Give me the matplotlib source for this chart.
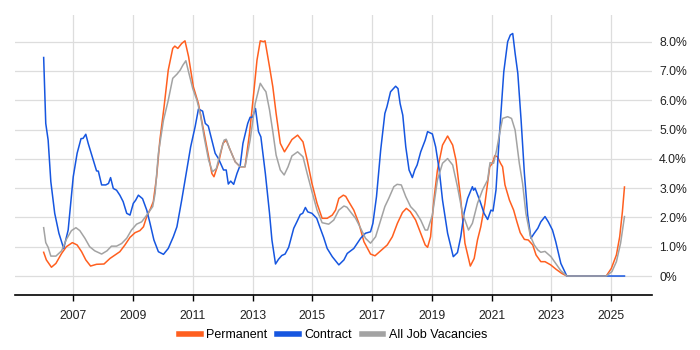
import matplotlib
matplotlib.use("Agg")
import matplotlib.pyplot as plt
import numpy as np

plt.rcParams['font.family'] = ['Liberation Sans', 'DejaVu Sans']

# ---- data (decimal year, percent) ----
perm_x = [2006.01, 2006.10, 2006.27, 2006.42, 2006.61, 2006.77, 2006.97, 2007.13, 2007.28, 2007.42,
          2007.58, 2007.78, 2008.03, 2008.23, 2008.40, 2008.56, 2008.73, 2008.90, 2009.07, 2009.23,
          2009.35, 2009.46, 2009.59, 2009.68, 2009.79, 2009.90, 2010.04, 2010.18, 2010.33, 2010.40,
          2010.50, 2010.63, 2010.74, 2010.86, 2011.02, 2011.19, 2011.36, 2011.53, 2011.64, 2011.71,
          2011.86, 2012.01, 2012.12, 2012.23, 2012.42, 2012.59, 2012.75, 2012.90, 2013.04, 2013.15,
          2013.26, 2013.37, 2013.42, 2013.57, 2013.68, 2013.79, 2013.93, 2014.07, 2014.21, 2014.32,
          2014.51, 2014.69, 2014.83, 2014.99, 2015.16, 2015.33, 2015.50, 2015.67, 2015.78, 2015.89,
          2016.04, 2016.12, 2016.22, 2016.39, 2016.56, 2016.73, 2016.95, 2017.10, 2017.29, 2017.51,
          2017.68, 2017.85, 2018.02, 2018.15, 2018.28, 2018.46, 2018.63, 2018.78, 2018.86, 2018.96,
          2019.07, 2019.19, 2019.36, 2019.53, 2019.70, 2019.81, 2019.96, 2020.11, 2020.29, 2020.42,
          2020.53, 2020.64, 2020.78, 2020.94, 2021.03, 2021.11, 2021.20, 2021.30, 2021.37, 2021.45,
          2021.60, 2021.74, 2021.85, 2021.96, 2022.10, 2022.23, 2022.38, 2022.49, 2022.65, 2022.79,
          2022.98, 2023.16, 2023.35, 2023.52, 2024.00, 2024.50, 2024.84, 2025.01, 2025.18, 2025.29,
          2025.38, 2025.45]
perm_y = [0.81, 0.55, 0.30, 0.43, 0.77, 1.00, 1.14, 1.06, 0.83, 0.55,
          0.34, 0.40, 0.41, 0.60, 0.72, 0.83, 1.06, 1.32, 1.48, 1.55,
          1.68, 2.03, 2.31, 2.54, 3.39, 4.64, 5.78, 7.03, 7.77, 7.85,
          7.77, 7.94, 8.03, 7.49, 6.46, 5.89, 4.98, 4.07, 3.50, 3.39,
          3.85, 4.53, 4.64, 4.36, 3.90, 3.73, 3.73, 4.87, 6.24, 7.37,
          8.03, 8.00, 8.03, 7.14, 6.46, 5.55, 4.53, 4.24, 4.47, 4.66,
          4.81, 4.58, 3.96, 3.16, 2.48, 1.97, 1.97, 2.08, 2.25, 2.65,
          2.76, 2.72, 2.54, 2.25, 1.80, 1.17, 0.75, 0.69, 0.86, 1.06,
          1.34, 1.80, 2.17, 2.31, 2.20, 1.91, 1.46, 1.06, 0.98, 1.34,
          2.59, 3.62, 4.47, 4.78, 4.47, 3.96, 2.71, 1.12, 0.34, 0.60,
          1.23, 1.68, 2.48, 3.73, 3.85, 4.11, 4.07, 3.85, 3.73, 3.11,
          2.59, 2.25, 1.85, 1.48, 1.25, 1.23, 1.06, 0.72, 0.49, 0.49,
          0.38, 0.23, 0.09, 0.00, 0.00, 0.00, 0.00, 0.26, 0.72, 1.34,
          2.19, 3.04]

cont_x = [2006.01, 2006.08, 2006.16, 2006.25, 2006.38, 2006.52, 2006.68, 2006.83, 2007.00, 2007.13,
          2007.26, 2007.33, 2007.42, 2007.50, 2007.67, 2007.78, 2007.84, 2007.95, 2008.09, 2008.18,
          2008.25, 2008.34, 2008.45, 2008.56, 2008.67, 2008.79, 2008.90, 2009.01, 2009.09, 2009.18,
          2009.32, 2009.46, 2009.57, 2009.70, 2009.85, 2010.02, 2010.18, 2010.35, 2010.47, 2010.63,
          2010.78, 2010.93, 2011.08, 2011.19, 2011.33, 2011.42, 2011.52, 2011.61, 2011.75, 2011.86,
          2012.03, 2012.12, 2012.19, 2012.27, 2012.37, 2012.48, 2012.59, 2012.68, 2012.84, 2012.92,
          2013.00, 2013.10, 2013.20, 2013.28, 2013.43, 2013.57, 2013.65, 2013.77, 2013.87, 2013.98,
          2014.09, 2014.21, 2014.38, 2014.49, 2014.60, 2014.68, 2014.77, 2014.85, 2014.99, 2015.15,
          2015.25, 2015.38, 2015.50, 2015.67, 2015.89, 2016.06, 2016.17, 2016.39, 2016.62, 2016.78,
          2016.95, 2017.03, 2017.15, 2017.29, 2017.43, 2017.50, 2017.62, 2017.79, 2017.87, 2017.94,
          2018.03, 2018.13, 2018.24, 2018.35, 2018.43, 2018.51, 2018.63, 2018.78, 2018.86, 2019.02,
          2019.13, 2019.25, 2019.36, 2019.53, 2019.72, 2019.86, 2019.97, 2020.08, 2020.20, 2020.36,
          2020.40, 2020.45, 2020.62, 2020.75, 2020.87, 2020.98, 2021.05, 2021.15, 2021.26, 2021.41,
          2021.54, 2021.63, 2021.71, 2021.79, 2021.88, 2021.99, 2022.10, 2022.21, 2022.32, 2022.43,
          2022.55, 2022.65, 2022.79, 2022.90, 2023.04, 2023.15, 2023.32, 2023.52, 2024.00, 2024.50,
          2025.00, 2025.45]
cont_y = [7.46, 5.21, 4.64, 3.22, 2.14, 1.46, 0.94, 1.57, 3.39, 4.19,
          4.69, 4.70, 4.84, 4.53, 3.96, 3.59, 3.58, 3.11, 3.11, 3.16,
          3.36, 2.99, 2.93, 2.76, 2.54, 2.14, 2.08, 2.48, 2.59, 2.76,
          2.64, 2.25, 1.80, 1.23, 0.83, 0.74, 0.94, 1.34, 1.68, 2.59,
          3.50, 4.41, 5.10, 5.70, 5.63, 5.21, 5.12, 4.75, 4.19, 4.01,
          3.62, 3.62, 3.14, 3.24, 3.13, 3.50, 3.79, 4.53, 5.21, 5.42,
          5.42, 5.72, 4.93, 4.75, 3.50, 2.14, 1.23, 0.41, 0.57, 0.70,
          0.75, 0.98, 1.63, 1.86, 2.10, 2.14, 2.34, 2.19, 2.14, 1.97,
          1.68, 1.32, 0.94, 0.66, 0.38, 0.55, 0.77, 0.94, 1.29, 1.46,
          1.51, 1.80, 2.71, 4.30, 5.55, 5.78, 6.29, 6.48, 6.40, 5.89,
          5.49, 4.41, 3.62, 3.36, 3.62, 3.79, 4.24, 4.64, 4.93, 4.85,
          4.41, 3.62, 2.59, 1.46, 0.66, 0.80, 1.34, 2.14, 2.65, 3.05,
          2.93, 3.00, 2.54, 2.14, 1.93, 2.25, 2.22, 2.94, 4.75, 6.97,
          8.00, 8.23, 8.28, 7.60, 6.92, 5.32, 3.50, 2.08, 1.29, 1.46,
          1.63, 1.85, 2.03, 1.85, 1.57, 1.17, 0.43, 0.00, 0.00, 0.00,
          0.00, 0.00]

all_x = [2006.01, 2006.08, 2006.16, 2006.25, 2006.42, 2006.61, 2006.77, 2006.94, 2007.09, 2007.22,
         2007.39, 2007.55, 2007.72, 2007.95, 2008.13, 2008.28, 2008.45, 2008.62, 2008.79, 2008.95,
         2009.12, 2009.29, 2009.46, 2009.66, 2009.74, 2009.85, 2010.02, 2010.18, 2010.33, 2010.47,
         2010.58, 2010.67, 2010.77, 2010.86, 2011.00, 2011.14, 2011.25, 2011.38, 2011.53, 2011.66,
         2011.79, 2011.92, 2012.05, 2012.12, 2012.23, 2012.42, 2012.59, 2012.75, 2012.92, 2013.09,
         2013.26, 2013.37, 2013.45, 2013.57, 2013.68, 2013.79, 2013.93, 2014.06, 2014.19, 2014.32,
         2014.51, 2014.69, 2014.83, 2014.99, 2015.16, 2015.33, 2015.55, 2015.72, 2015.89, 2016.06,
         2016.16, 2016.28, 2016.45, 2016.62, 2016.78, 2016.95, 2017.12, 2017.26, 2017.43, 2017.56,
         2017.73, 2017.84, 2017.98, 2018.13, 2018.29, 2018.46, 2018.63, 2018.78, 2018.86, 2019.02,
         2019.19, 2019.36, 2019.53, 2019.70, 2019.86, 2020.03, 2020.23, 2020.36, 2020.47, 2020.53,
         2020.70, 2020.87, 2020.95, 2021.07, 2021.17, 2021.26, 2021.37, 2021.54, 2021.67, 2021.79,
         2021.93, 2022.04, 2022.15, 2022.30, 2022.43, 2022.55, 2022.65, 2022.79, 2022.99, 2023.15,
         2023.32, 2023.52, 2024.00, 2024.50, 2024.84, 2025.03, 2025.18, 2025.32, 2025.45]
all_y = [1.65, 1.14, 0.98, 0.68, 0.68, 0.86, 1.25, 1.55, 1.65, 1.55,
         1.29, 1.00, 0.86, 0.75, 0.86, 1.02, 1.02, 1.11, 1.29, 1.57,
         1.77, 1.85, 2.08, 2.37, 2.82, 4.19, 5.32, 6.00, 6.75, 6.89,
         7.03, 7.20, 7.35, 6.97, 6.40, 6.00, 5.55, 4.75, 3.96, 3.56,
         3.67, 4.19, 4.64, 4.67, 4.36, 3.90, 3.73, 3.73, 4.64, 5.89,
         6.58, 6.40, 6.29, 5.67, 4.93, 4.13, 3.62, 3.45, 3.73, 4.10,
         4.24, 4.07, 3.50, 2.88, 2.25, 1.82, 1.77, 1.91, 2.25, 2.39,
         2.35, 2.19, 1.97, 1.63, 1.29, 1.12, 1.34, 1.80, 2.37, 2.65,
         3.05, 3.13, 3.11, 2.71, 2.37, 2.19, 1.91, 1.57, 1.57, 2.08,
         3.28, 3.85, 4.01, 3.79, 3.05, 2.14, 1.57, 1.80, 2.25, 2.48,
         2.94, 3.28, 3.87, 3.85, 4.30, 4.81, 5.38, 5.44, 5.38, 4.98,
         3.85, 3.16, 2.14, 1.37, 1.06, 0.89, 0.81, 0.84, 0.66, 0.43,
         0.18, 0.00, 0.00, 0.00, 0.00, 0.15, 0.49, 1.12, 2.03]

year_ticks = [2007, 2009, 2011, 2013, 2015, 2017, 2019, 2021, 2023, 2025]
pct_ticks = [0, 1, 2, 3, 4, 5, 6, 7, 8]
pct_labels = ['0%', '1.0%', '2.0%', '3.0%', '4.0%', '5.0%', '6.0%', '7.0%', '8.0%']

c_perm = '#FF5F1F'
c_cont = '#1656E0'
c_all = '#A3A3A3'

fig = plt.figure(figsize=(7, 3.5), dpi=100)
ax = fig.add_axes([0.0214, 0.157, 0.9104, 0.8])

ax.plot(perm_x, perm_y, color=c_perm, lw=1.1, label='Permanent', zorder=3)
ax.plot(cont_x, cont_y, color=c_cont, lw=1.1, label='Contract', zorder=3)
ax.plot(all_x, all_y, color=c_all, lw=1.1, label='All Job Vacancies', zorder=3)

ax.set_xlim(2005.05, 2026.38)
ax.set_ylim(-0.65, 8.91)

ax.set_xticks(year_ticks)
ax.set_xticklabels([str(y) for y in year_ticks])
ax.set_yticks(pct_ticks)
ax.set_yticklabels(pct_labels)

ax.yaxis.tick_right()
ax.tick_params(axis='y', length=0, pad=5, labelsize=8.8, labelcolor='#222222')
ax.tick_params(axis='x', length=4, width=1, color='black', pad=7, labelsize=8.8, labelcolor='#222222')

ax.grid(True, color='#dddddd', lw=0.9, zorder=0)
for s in ['left', 'right', 'top']:
    ax.spines[s].set_visible(False)
ax.spines['bottom'].set_color('black')
ax.spines['bottom'].set_linewidth(1.2)

leg = fig.legend(loc='center', bbox_to_anchor=(0.476, 0.043), ncol=3, frameon=False,
                 fontsize=9.0, handlelength=1.7, handletextpad=0.45, columnspacing=0.8)
for h in leg.get_lines():
    h.set_linewidth(4)

fig.savefig('out.png', dpi=100)
